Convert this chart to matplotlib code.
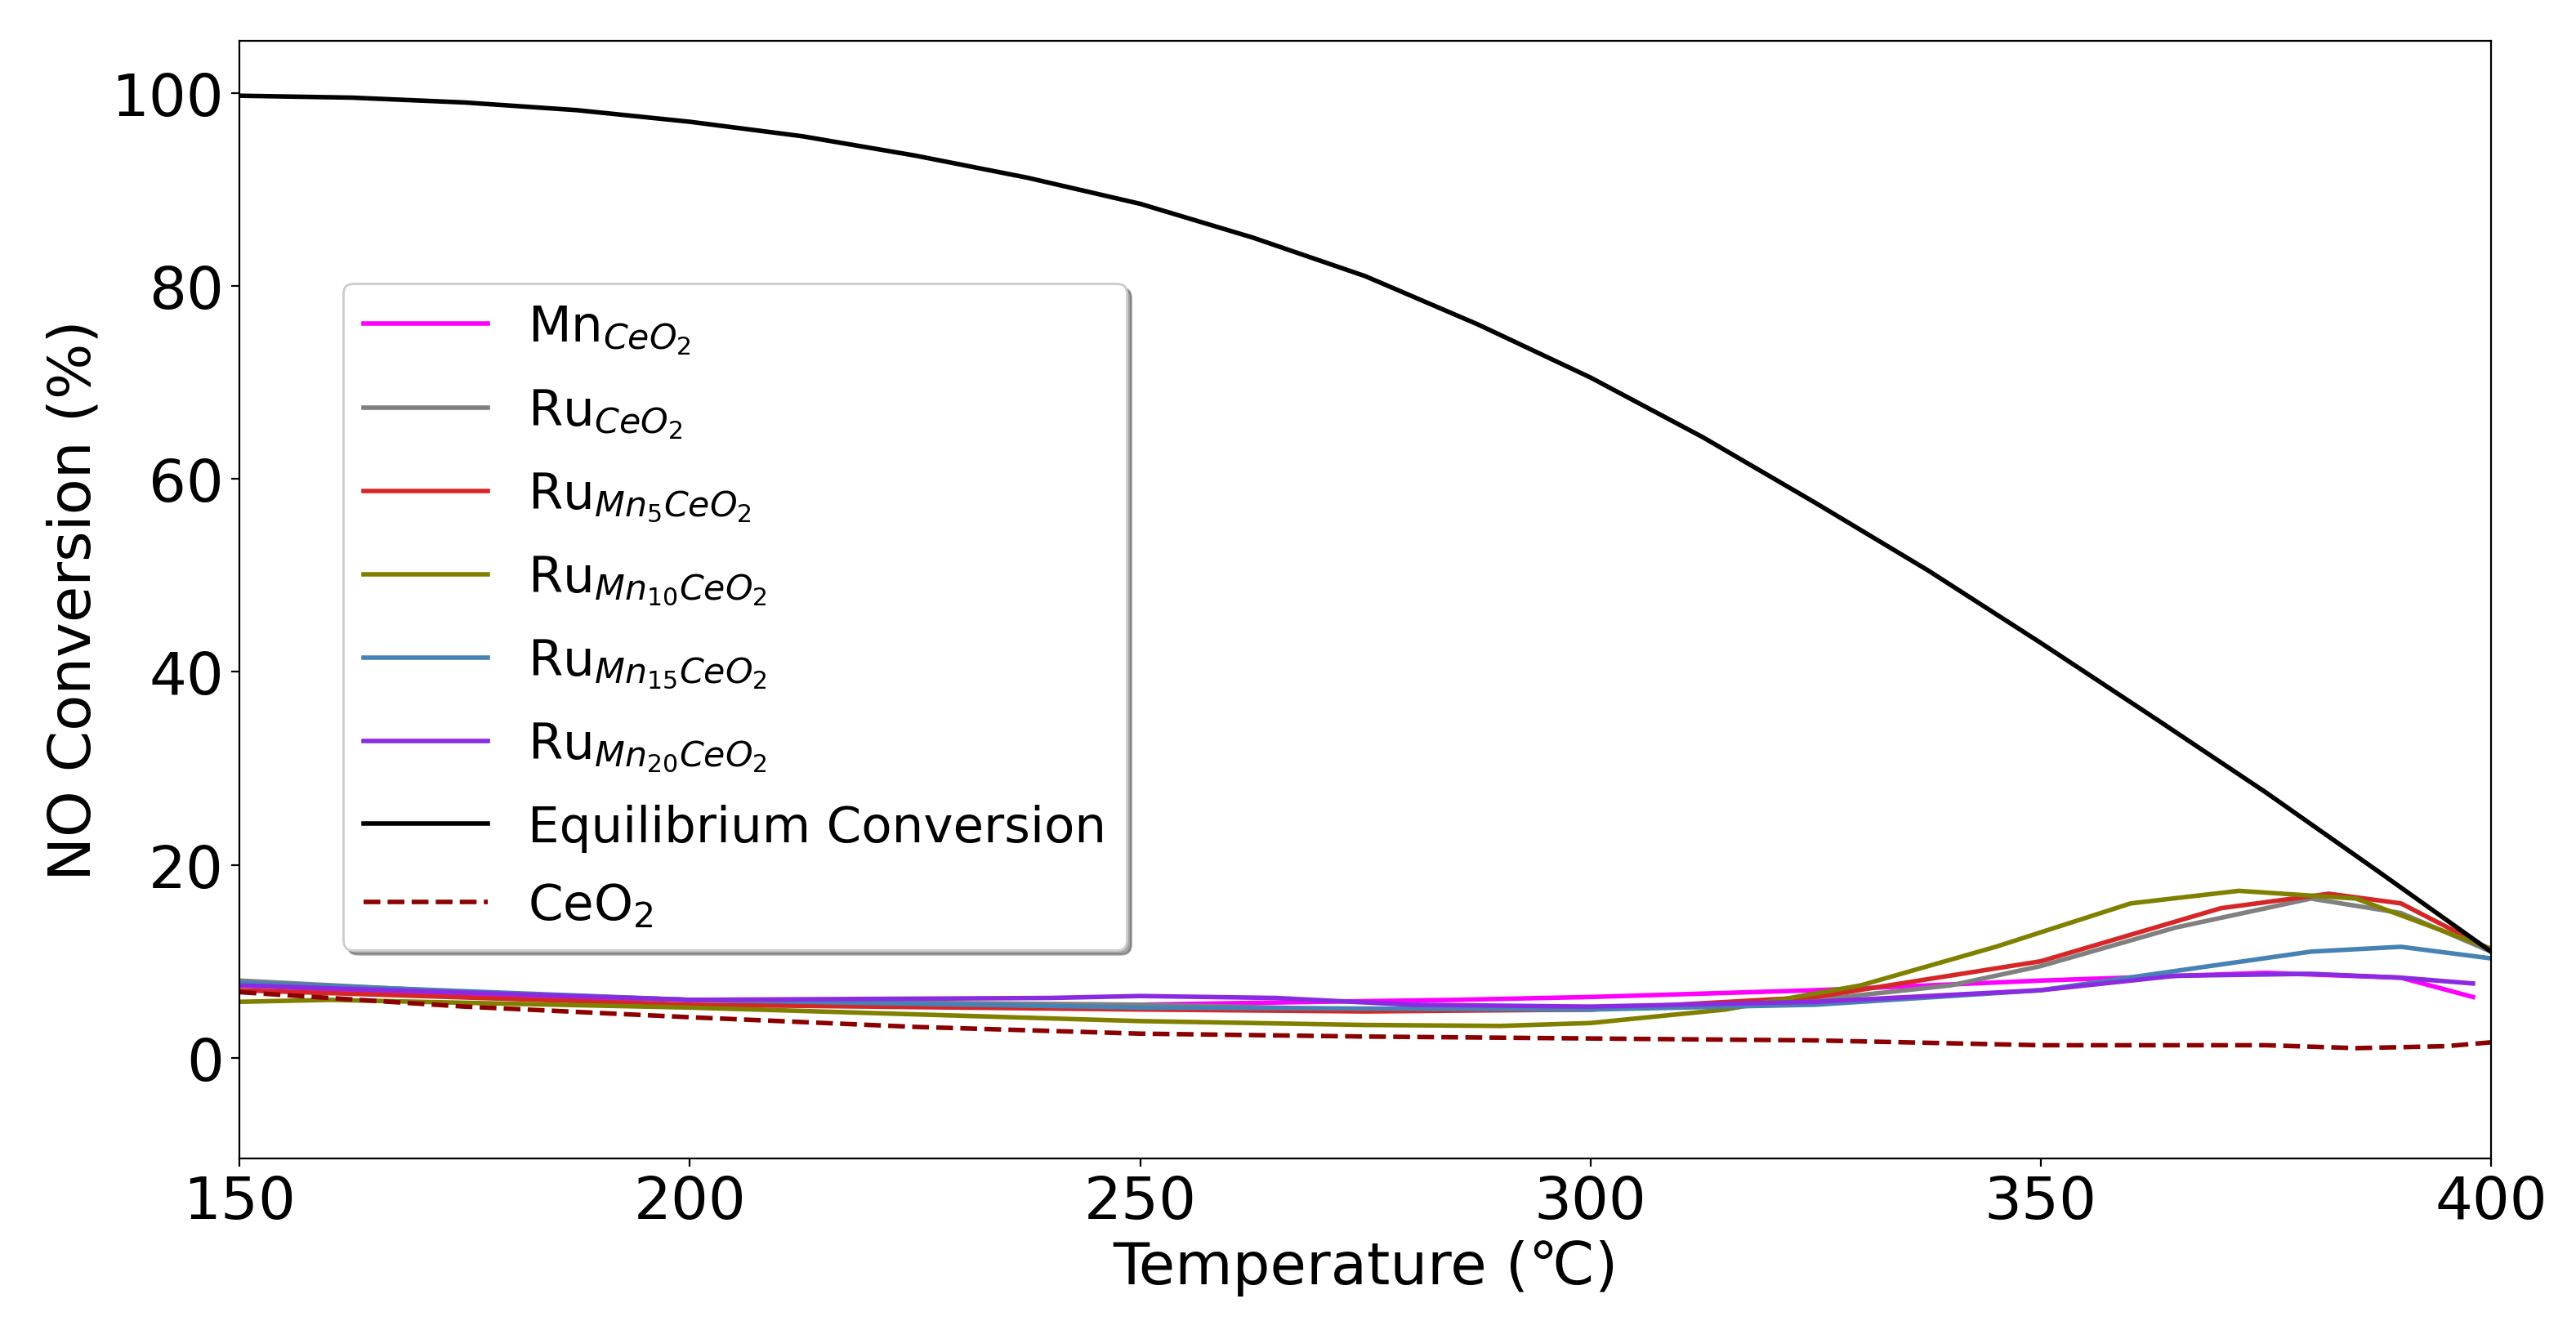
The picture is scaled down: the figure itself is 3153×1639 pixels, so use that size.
import matplotlib
matplotlib.use("Agg")
import matplotlib.pyplot as plt

eq_T = [150,162.5,175,187.5,200,212.5,225,237.5,250,262.5,275,287.5,300,312.5,325,337.5,350,362.5,375,387.5,400]
eq_Y = [99.7,99.5,99.0,98.2,97.0,95.5,93.5,91.2,88.5,85.0,81.0,76.0,70.5,64.3,57.5,50.5,43.0,35.3,27.5,19.3,11.0]

mn_T = [150,175,200,225,250,270,285,300,325,350,375,390,398]
mn_Y = [7.5,6.5,6.0,5.5,5.5,5.8,6.0,6.3,7.0,8.0,8.8,8.3,6.3]

ru_T = [150,175,200,225,250,275,300,325,340,350,365,380,390,400]
ru_Y = [8.0,6.8,6.0,5.7,5.5,5.0,5.0,6.0,7.5,9.5,13.5,16.5,15.0,11.0]

ru5_T = [150,200,250,275,300,325,350,370,382,390,400]
ru5_Y = [7.0,5.5,5.0,4.8,5.0,6.3,10.0,15.5,17.0,16.0,11.2]

ru10_T = [150,160,200,250,275,290,300,315,330,345,360,372,385,400]
ru10_Y = [5.8,6.0,5.2,3.8,3.4,3.3,3.6,5.0,7.5,11.5,16.0,17.3,16.5,11.3]

ru15_T = [150,200,250,300,325,350,365,380,390,400]
ru15_Y = [7.8,6.0,5.2,5.0,5.5,7.0,9.0,11.0,11.5,10.3]

ru20_T = [150,200,240,250,265,280,300,325,350,365,380,390,398]
ru20_Y = [7.5,6.0,6.2,6.4,6.2,5.5,5.3,5.8,7.0,8.5,8.7,8.3,7.7]

ce_T = [150,175,200,225,250,275,300,325,350,375,385,395,400]
ce_Y = [6.8,5.3,4.2,3.2,2.5,2.2,2.0,1.8,1.3,1.3,1.0,1.2,1.6]

fig = plt.figure(figsize=(15.765, 8.2), dpi=200)
ax = fig.add_axes([0.093, 0.135, 0.874, 0.834])
lw = 2
ax.plot(mn_T, mn_Y, color='magenta', lw=lw, label=r'Mn$_{CeO_2}$')
ax.plot(ru_T, ru_Y, color='gray', lw=lw, label=r'Ru$_{CeO_2}$')
ax.plot(ru5_T, ru5_Y, color='tab:red', lw=lw, label=r'Ru$_{Mn_5CeO_2}$')
ax.plot(ru10_T, ru10_Y, color='olive', lw=lw, label=r'Ru$_{Mn_{10}CeO_2}$')
ax.plot(ru15_T, ru15_Y, color='steelblue', lw=lw, label=r'Ru$_{Mn_{15}CeO_2}$')
ax.plot(ru20_T, ru20_Y, color='blueviolet', lw=lw, label=r'Ru$_{Mn_{20}CeO_2}$')
ax.plot(eq_T, eq_Y, color='black', lw=lw, label='Equilibrium Conversion')
ax.plot(ce_T, ce_Y, color='darkred', lw=lw, ls='--', label=r'CeO$_2$')

ax.set_xlim(150, 400)
ax.set_ylim(-10.4, 105.4)
ax.set_xticks([150,200,250,300,350,400])
ax.set_yticks([0,20,40,60,80,100])
ax.tick_params(labelsize=26)
ax.set_xlabel('Temperature (℃)', fontsize=26)
ax.set_ylabel('NO Conversion (%)', fontsize=26)
ax.legend(loc='upper left', bbox_to_anchor=(0.035, 0.805), fontsize=22,
          shadow=True, fancybox=True, handlelength=2.5, labelspacing=0.6)
fig.savefig('out.png', dpi=200)
